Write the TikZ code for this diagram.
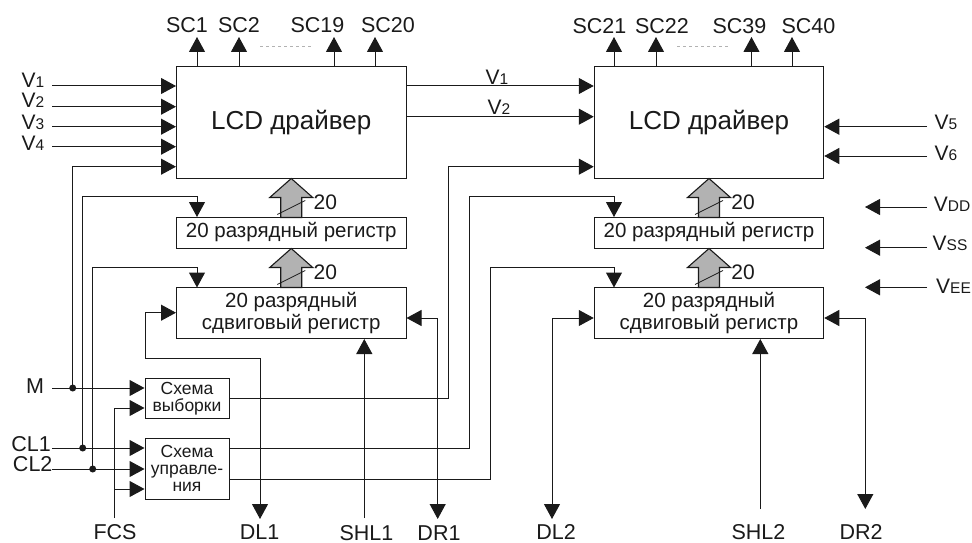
\documentclass[tikz,border=0pt]{standalone}
\usepackage{fontspec}
\setmainfont{Liberation Sans}
\usepackage{tikz}
\usetikzlibrary{arrows.meta,positioning,calc}

\definecolor{inkdark}{HTML}{1A1A1A}
\definecolor{busgray}{HTML}{B2B2B2}

\tikzset{
    block/.style={draw=inkdark,line width=1pt,rectangle,inner sep=0pt,align=center,text=inkdark},
    drvbox/.style={block,minimum width=229.5pt,minimum height=111pt,font=\fontsize{26}{30}\selectfont},
    regbox/.style={block,minimum width=229.5pt,minimum height=31pt,font=\fontsize{20.5}{22}\selectfont},
    shiftbox/.style={block,minimum width=229.5pt,minimum height=51pt,font=\fontsize{20.5}{22}\selectfont},
    smallbox/.style={block,minimum width=84pt,font=\fontsize{17.5}{17}\selectfont},
    siglabel/.style={inner sep=0pt,text=inkdark,font=\fontsize{21}{24}\selectfont},
    pinlabel/.style={siglabel,font=\fontsize{21.5}{24}\selectfont},
    sig/.style={draw=inkdark,line width=1pt,-{Triangle[length=15pt,width=16pt]}},
    sigboth/.style={draw=inkdark,line width=1pt,{Triangle[length=15pt,width=16pt]}-{Triangle[length=15pt,width=16pt]}},
    wire/.style={draw=inkdark,line width=1pt},
    busarrow/.style={draw=inkdark,line width=1.1pt,fill=busgray,line join=miter},
}

% V with its index set small
\newcommand{\lowsub}[2]{#1{\fontsize{15.5}{16}\selectfont #2}}
% wide arrow, slash and width
\newcommand{\busup}[2]{
    \filldraw[busarrow] (#1) -- ++(21.5,19) -- ++(-11,0) -- ++(0,20) -- ++(-21,0) -- ++(0,-20) -- ++(-11,0) -- cycle;
    \draw[inkdark,line width=0.7pt] ($(#1)+(-14,36)$) -- ($(#1)+(14,22)$);
    \node[siglabel] (#2) at ($(#1)+(34,24)$) {20};
}

\begin{document}
\begin{tikzpicture}[x=1pt,y=-1pt]
    \useasboundingbox (0,0) rectangle (972,543);

    % boxes
    \node[drvbox] (drvA) at (291.25,122.5) {LCD драйвер};
    \node[regbox] (regA) at (291.25,232.5) {20 разрядный регистр};
    \node[shiftbox] (shiftA) at (291.25,313) {20 разрядный\\сдвиговый регистр};
    \node[drvbox] (drvB) at (709,122.5) {LCD драйвер};
    \node[regbox] (regB) at (709,232.5) {20 разрядный регистр};
    \node[shiftbox] (shiftB) at (709,313) {20 разрядный\\сдвиговый регистр};
    \node[smallbox,minimum height=40.5pt] (sel) at (187,398.25) {Схема\\выборки};
    \node[smallbox,minimum height=61pt] (ctrl) at (187,468.5) {Схема\\управле-\\ния};

    % wide arrows
    \busup{drvA.south}{busA}
    \busup{regA.south}{busB}
    \busup{drvB.south}{busC}
    \busup{regB.south}{busD}

    % outputs on top
    \foreach \n/\lx/\ax in {1/187/197,2/239/239,19/317.5/334,20/388/375}{
        \node[pinlabel] (lblSC\n) at (\lx,25) {SC\n};
        \coordinate (topSC\n) at (\ax,37);
        \draw[sig] (topSC\n |- drvA.north) -- (topSC\n);
    }
    \foreach \n/\lx/\ax in {21/599.5/614,22/662/656,39/739.5/751.5,40/808.5/792}{
        \node[pinlabel] (lblSC\n) at (\lx,26) {SC\n};
        \coordinate (topSC\n) at (\ax,37);
        \draw[sig] (topSC\n |- drvB.north) -- (topSC\n);
    }
    \draw[gray!60,dashed,line width=0.6pt] (260,46) -- (312,46);
    \draw[gray!60,dashed,line width=0.6pt] (677,46) -- (729,46);

    % inputs of the first driver
    \foreach \n/\y/\ly in {1/86/80,2/106.7/100,3/126.7/122,4/146.7/143}{
        \node[siglabel] (lblV\n) at (33,\ly) {\lowsub{V}{\n}};
        \coordinate (startV\n) at (52,\y);
        \draw[sig] (startV\n) -- (startV\n -| drvA.west);
    }

    % V1, V2 between the drivers
    \node[siglabel] (lblVa) at (497,77) {\lowsub{V}{1}};
    \node[siglabel] (lblVb) at (499,107) {\lowsub{V}{2}};
    \coordinate (startVa) at (drvA.east |- 0,86);
    \coordinate (startVb) at (drvA.east |- 0,116.7);
    \draw[sig] (startVa) -- (startVa -| drvB.west);
    \draw[sig] (startVb) -- (startVb -| drvB.west);

    % supplies on the right
    \node[siglabel] (lblV5) at (946,122) {\lowsub{V}{5}};
    \node[siglabel] (lblV6) at (946,153) {\lowsub{V}{6}};
    \node[siglabel] (lblVDD) at (952,204) {\lowsub{V}{DD}};
    \node[siglabel] (lblVSS) at (950,243) {\lowsub{V}{SS}};
    \node[siglabel] (lblVEE) at (953.5,286) {\lowsub{V}{EE}};
    \coordinate (startV5) at (927,126.7);
    \coordinate (startV6) at (927,156);
    \draw[sig] (startV5) -- (startV5 -| drvB.east);
    \draw[sig] (startV6) -- (startV6 -| drvB.east);
    \foreach \name/\y in {VDD/207,VSS/247.7,VEE/287.3}{
        \coordinate (start\name) at (927,\y);
        \coordinate (end\name) at (865,\y);
        \draw[sig] (start\name) -- (end\name);
    }

    % M, CL1, CL2 and their taps
    \node[pinlabel] (lblM) at (35,386) {M};
    \node[pinlabel] (lblCLa) at (31,444) {CL1};
    \node[pinlabel] (lblCLb) at (32.7,464) {CL2};
    \coordinate (startM) at (52,388);
    \coordinate (startCLa) at (52,448);
    \coordinate (startCLb) at (52,469);
    \coordinate (dotM) at (72.7,388);
    \coordinate (dotCLa) at (82.7,448);
    \coordinate (dotCLb) at (92.7,469);
    \foreach \p in {dotM,dotCLa,dotCLb}{
        \fill[inkdark] (\p) circle (3.5);
    }
    \draw[sig] (startM) -- (startM -| sel.west);
    \draw[sig] (startCLa) -- (startCLa -| ctrl.west);
    \draw[sig] (startCLb) -- (startCLb -| ctrl.west);
    \draw[sig] (dotM) |- (drvA.west |- 0,166.7);
    \draw[sig] (dotCLa) |- (197,196.7) -- (197,217);
    \draw[sig] (dotCLb) |- (197,267) -- (197,287.5);

    % FCS
    \node[pinlabel] (lblFCS) at (115,532) {FCS};
    \coordinate (startFCS) at (114.7,518);
    \coordinate (tapFCS) at (114.7,489);
    \draw[wire] (startFCS) -- (tapFCS);
    \draw[sig] (tapFCS) |- (sel.west |- 0,408);
    \draw[sig] (tapFCS) -- (tapFCS -| ctrl.west);

    % lines under the first shift register
    \node[pinlabel] (lblDLa) at (259.5,532) {DL1};
    \node[pinlabel] (lblSHLa) at (366.5,533) {SHL1};
    \node[pinlabel] (lblDRa) at (439,533) {DR1};
    \coordinate (endDLa) at (260,519);
    \coordinate (startSHLa) at (364.3,518);
    \coordinate (endDRa) at (437.7,519);
    \draw[sigboth] (shiftA.west |- 0,312.7) -- (145,312.7) -- (145,358.7) -| (endDLa);
    \draw[sig] (startSHLa) -- (startSHLa |- shiftA.south);
    \draw[sigboth] (shiftA.east |- 0,318) -| (endDRa);

    % lines under the second shift register
    \node[pinlabel] (lblDLb) at (556,532) {DL2};
    \node[pinlabel] (lblSHLb) at (758.5,532) {SHL2};
    \node[pinlabel] (lblDRb) at (861,532) {DR2};
    \coordinate (endDLb) at (552,519);
    \coordinate (startSHLb) at (760.3,509);
    \coordinate (endDRb) at (865.3,509);
    \draw[sigboth] (shiftB.west |- 0,318) -| (endDLb);
    \draw[sig] (startSHLb) -- (startSHLb |- shiftB.south);
    \draw[sigboth] (shiftB.east |- 0,318) -| (endDRb);

    % from the small boxes to the second driver
    \draw[sig] (sel.east |- 0,398) -| (448.3,166.7) -- (drvB.west |- 0,166.7);
    \draw[sig] (ctrl.east |- 0,448) -| (469,196.7) -| (614,217);
    \draw[sig] (ctrl.east |- 0,479) -| (490,267) -| (614,287.5);
\end{tikzpicture}
\end{document}
